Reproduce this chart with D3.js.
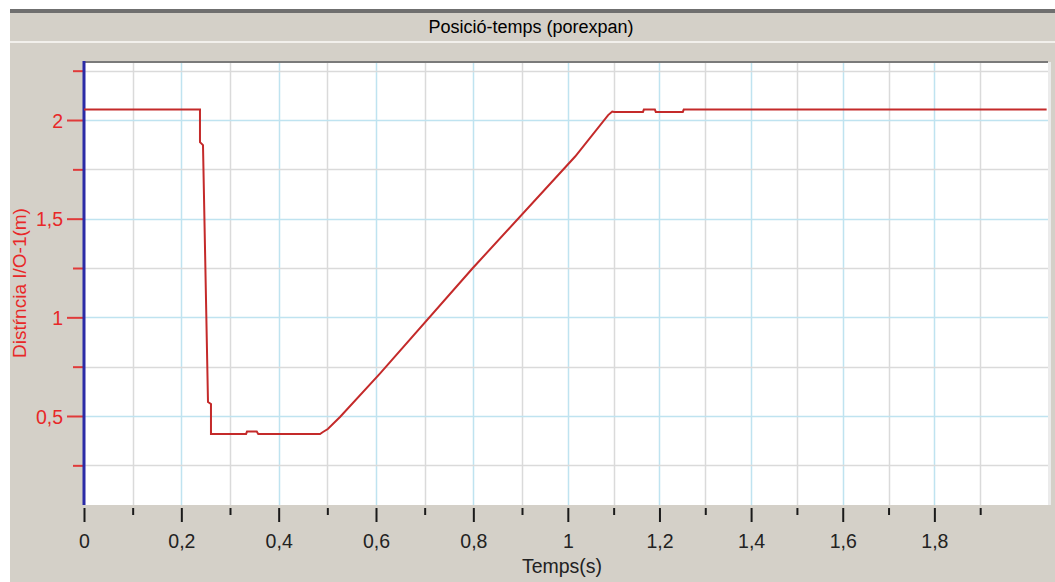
<!DOCTYPE html>
<html>
<head>
<meta charset="utf-8">
<script src="https://cdn.jsdelivr.net/npm/d3@7"></script>
<style>
  body{margin:0;background:#fff;}
  svg text{font-family:"Liberation Sans",Arial,sans-serif;}
</style>
</head>
<body>
<svg id="chart" width="1055" height="582"></svg>
<script>
// chart text
const titleText = 'Posició-temps (porexpan)'
const xTitle = 'Temps(s)'
const yTitle = 'Distŕncia I/O-1(m)'

// ticks
const xMajor = [0, 0.2, 0.4, 0.6, 0.8, 1, 1.2, 1.4, 1.6, 1.8]
const xMinor = [0.1, 0.3, 0.5, 0.7, 0.9, 1.1, 1.3, 1.5, 1.7, 1.9]
const yMajor = [0.5, 1, 1.5, 2]
const yMinor = [0.25, 0.75, 1.25, 1.75, 2.25]

// series
const time = [0, 0.2383, 0.2383, 0.2445, 0.2548, 0.2609, 0.2609, 0.333, 0.335, 0.355, 0.358,
	0.485, 0.491, 0.501, 0.526, 0.608, 0.799, 1.016, 1.088, 1.097, 1.101, 1.164, 1.166,
	1.190, 1.192, 1.251, 1.253, 2.045]
const dist = [2.053, 2.053, 1.888, 1.873, 0.571, 0.561, 0.409, 0.409, 0.421, 0.421, 0.409,
	0.409, 0.419, 0.434, 0.495, 0.715, 1.25, 1.815, 2.025, 2.043, 2.041, 2.041, 2.053,
	2.053, 2.041, 2.041, 2.053, 2.053]

const svg = d3.select('#chart')
const plot = {left:84, right:1048, top:62, bottom:505}

// scales (the source grid is not quite even, so two segments)
const x = d3.scaleLinear().domain([0, 0.9, 2.048]).range([plot.left, 522, plot.right])
const y = d3.scaleLinear().domain([0.049, 2.294]).range([plot.bottom, plot.top])

const loc = d3.formatLocale({decimal:',', thousands:'.', grouping:[3], currency:['', '']})
const fmt = loc.format('~g')

// window frame
svg.append('rect').attr('x', 10).attr('y', 9).attr('width', 1045).attr('height', 573).style('fill', '#d4d0c8')
svg.append('rect').attr('x', 10).attr('y', 9).attr('width', 1045).attr('height', 4).style('fill', '#6f6f6f')
svg.append('rect').attr('x', 10).attr('y', 41).attr('width', 1045).attr('height', 2).style('fill', '#f2f0ec')

svg.append('text').attr('x', 531).attr('y', 33).attr('text-anchor', 'middle')
	.style('font-size', '18px').style('fill', '#000').text(titleText)

// plot area
svg.append('rect').attr('x', plot.left).attr('y', plot.top)
	.attr('width', plot.right - plot.left).attr('height', plot.bottom - plot.top)
	.style('fill', '#fff')
svg.append('rect').attr('x', plot.right).attr('y', plot.top)
	.attr('width', 3).attr('height', plot.bottom - plot.top).style('fill', '#ebebeb')

// grid
const grid = svg.append('g')
grid.selectAll('.vminor').data(xMinor).enter().append('line')
	.attr('x1', d => Math.round(x(d)) + 0.5).attr('x2', d => Math.round(x(d)) + 0.5)
	.attr('y1', plot.top).attr('y2', plot.bottom)
	.style('stroke', '#dadada').style('stroke-width', 1.5)
grid.selectAll('.vmajor').data(xMajor.filter(d => d > 0)).enter().append('line')
	.attr('x1', d => Math.round(x(d)) + 0.5).attr('x2', d => Math.round(x(d)) + 0.5)
	.attr('y1', plot.top).attr('y2', plot.bottom)
	.style('stroke', '#bfe3f0').style('stroke-width', 1.5)
grid.selectAll('.hminor').data(yMinor).enter().append('line')
	.attr('y1', d => Math.round(y(d)) + 0.5).attr('y2', d => Math.round(y(d)) + 0.5)
	.attr('x1', plot.left).attr('x2', plot.right)
	.style('stroke', '#dadada').style('stroke-width', 1.5)
grid.selectAll('.hmajor').data(yMajor).enter().append('line')
	.attr('y1', d => Math.round(y(d)) + 0.5).attr('y2', d => Math.round(y(d)) + 0.5)
	.attr('x1', plot.left).attr('x2', plot.right)
	.style('stroke', '#bfe3f0').style('stroke-width', 1.5)

svg.append('rect').attr('x', plot.left).attr('y', plot.top - 1)
	.attr('width', plot.right - plot.left).attr('height', 2).style('fill', '#7a7a7a')

// x axis
const gxMinor = svg.append('g').attr('transform', `translate(0,${plot.bottom + 3})`)
	.call(d3.axisBottom(x).tickValues(xMinor).tickSize(7).tickFormat(''))
const gxMajor = svg.append('g').attr('transform', `translate(0,${plot.bottom + 3})`)
	.call(d3.axisBottom(x).tickValues(xMajor).tickSize(14).tickFormat(fmt))
;[gxMinor, gxMajor].forEach(g => {
	g.select('.domain').remove()
	g.selectAll('line').style('stroke', '#1a1a1a').style('stroke-width', 2)
})
gxMajor.selectAll('text').attr('y', 40).attr('dy', null)
	.style('font-size', '19.5px').style('fill', '#222').attr('font-family', null)

svg.append('text').attr('x', 562).attr('y', 573).attr('text-anchor', 'middle')
	.style('font-size', '19.5px').style('fill', '#222').text(xTitle)

// y axis
const gyMinor = svg.append('g').attr('transform', `translate(${plot.left - 1},0)`)
	.call(d3.axisLeft(y).tickValues(yMinor).tickSize(10).tickFormat(''))
const gyMajor = svg.append('g').attr('transform', `translate(${plot.left - 1},0)`)
	.call(d3.axisLeft(y).tickValues(yMajor).tickSize(16).tickFormat(fmt))
;[gyMinor, gyMajor].forEach(g => {
	g.select('.domain').remove()
	g.selectAll('line').style('stroke', '#e03a3a').style('stroke-width', 2)
})
gyMajor.selectAll('text').attr('x', -20).attr('dy', '0.36em')
	.style('font-size', '19.5px').style('fill', '#e82828').attr('font-family', null)

svg.append('text').attr('transform', 'translate(26,283) rotate(-90)').attr('text-anchor', 'middle')
	.style('font-size', '19px').style('fill', '#e82828').text(yTitle)

// blue axis bar
svg.append('rect').attr('x', plot.left - 1.5).attr('y', plot.top - 1)
	.attr('width', 3).attr('height', plot.bottom - plot.top + 1).style('fill', '#2b2ba6')

// series
const pts = time.map((t, i) => [t, dist[i]])
svg.append('path').datum(pts)
	.attr('d', d3.line().x(d => x(d[0])).y(d => y(d[1])))
	.style('fill', 'none').style('stroke', '#c42a2a').style('stroke-width', 2)
	.style('stroke-linejoin', 'miter')
</script>
</body>
</html>
